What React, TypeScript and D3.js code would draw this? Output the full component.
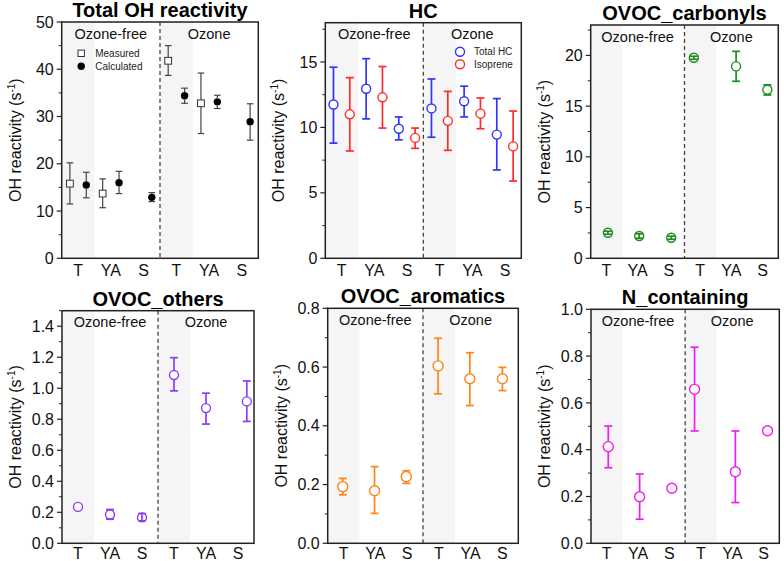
import React from "react";
import * as d3 from "d3";

const FONT = "'Liberation Sans', Arial, sans-serif";

// x axis: 12 slots, two per sample; labels sit between each pair
const sampleLabels = ["T", "YA", "S", "T", "YA", "S"];
const sampleLabelAt = [1.5, 3.5, 5.5, 7.5, 9.5, 11.5];
const conditionLabels = ["Ozone-free", "Ozone"];
const conditionLabelAt = [3.5, 9.5];

// Total OH reactivity
const measuredX = [1, 3, 7, 9];
const measuredY = [15.8, 13.7, 41.8, 32.8];
const measuredLo = [11.5, 10.7, 38.7, 26.4];
const measuredHi = [20.2, 16.8, 45.0, 39.2];
const calculatedX = [2, 4, 6, 8, 10, 12];
const calculatedY = [15.5, 16.0, 12.9, 34.4, 33.1, 28.9];
const calculatedLo = [12.8, 13.7, 12.0, 32.8, 31.7, 25.0];
const calculatedHi = [18.2, 18.4, 13.9, 36.0, 34.5, 32.7];

// HC
const totalHcX = [1, 3, 5, 7, 9, 11];
const totalHcY = [11.75, 12.95, 9.9, 11.45, 12.0, 9.45];
const totalHcLo = [8.8, 10.65, 9.05, 9.25, 10.8, 6.75];
const totalHcHi = [14.6, 15.25, 10.8, 13.7, 13.15, 12.2];
const isopreneX = [2, 4, 6, 8, 10, 12];
const isopreneY = [11.0, 12.3, 9.2, 10.5, 11.05, 8.55];
const isopreneLo = [8.2, 9.95, 8.4, 8.25, 9.9, 5.9];
const isopreneHi = [13.8, 14.65, 9.95, 12.75, 12.25, 11.25];

// OVOC_carbonyls
const carbonylX = [1.6, 3.6, 5.65, 7.1, 9.8, 11.8];
const carbonylY = [2.52, 2.2, 2.03, 19.77, 18.92, 16.62];
const carbonylLo = [2.37, 1.98, 1.88, 19.62, 17.45, 16.1];
const carbonylHi = [2.67, 2.42, 2.18, 19.92, 20.4, 17.1];

// OVOC_others
const othersX = [1.5, 3.5, 5.5, 7.5, 9.5, 12.05];
const othersY = [0.235, 0.186, 0.167, 1.085, 0.872, 0.915];
const othersLo = [0.235, 0.155, 0.145, 0.983, 0.769, 0.786];
const othersHi = [0.235, 0.218, 0.192, 1.197, 0.968, 1.047];

// OVOC_aromatics
const aromaticsX = [1.45, 3.45, 5.45, 7.45, 9.45, 11.5];
const aromaticsY = [0.193, 0.179, 0.227, 0.604, 0.56, 0.56];
const aromaticsLo = [0.165, 0.102, 0.204, 0.509, 0.469, 0.52];
const aromaticsHi = [0.221, 0.261, 0.247, 0.698, 0.649, 0.599];

// N_containing
const nitrogenX = [1.6, 3.6, 5.65, 7.1, 9.7, 11.75];
const nitrogenY = [0.413, 0.199, 0.235, 0.658, 0.306, 0.481];
const nitrogenLo = [0.323, 0.103, 0.235, 0.48, 0.174, 0.481];
const nitrogenHi = [0.501, 0.296, 0.235, 0.838, 0.48, 0.481];

type Series = {
  name?: string;
  x: number[];
  y: number[];
  lo: number[];
  hi: number[];
  color: string;
  barColor: string;
  marker: "square" | "dot" | "ring";
  r: number;
  barWidth: number;
  cap: number;
};

type PanelProps = {
  title: string;
  box: { l: number; r: number; t: number; b: number };
  yMax: number;
  major: number;
  minor: number;
  decimals: number;
  series: Series[];
  legend?: { dx: number; dy: number; gap: number };
  labelDrop?: number;
};

function Marker({ s, cx, cy }: { s: Series; cx: number; cy: number }) {
  if (s.marker === "square")
    return <rect x={cx - s.r} y={cy - s.r} width={s.r * 2} height={s.r * 2} fill="#fff" stroke="#333" strokeWidth={1} />;
  if (s.marker === "dot") return <circle cx={cx} cy={cy} r={s.r} fill="#000" />;
  return <circle cx={cx} cy={cy} r={s.r} fill="#fff" stroke={s.color} strokeWidth={1.4} />;
}

function Panel({ title, box, yMax, major, minor, decimals, series, legend, labelDrop = 17.5 }: PanelProps) {
  const x = d3.scaleLinear().domain([0.5, 12.5]).range([box.l, box.r]);
  const y = d3.scaleLinear().domain([0, yMax]).range([box.b, box.t]);
  const majors = d3.range(0, yMax + 1e-9, major);
  const minors = d3.range(0, yMax + 1e-9, minor).filter((v) => Math.abs(v / major - Math.round(v / major)) > 1e-6);
  const fmt = d3.format(`.${decimals}f`);
  const cy = (box.t + box.b) / 2;

  return (
    <g fontFamily={FONT}>
      {/* shaded T columns */}
      <rect x={x(0.5)} y={box.t} width={x(2.5) - x(0.5)} height={box.b - box.t} fill="#f5f5f5" />
      <rect x={x(6.5)} y={box.t} width={x(8.5) - x(6.5)} height={box.b - box.t} fill="#f5f5f5" />
      <line x1={x(6.5)} x2={x(6.5)} y1={box.t} y2={box.b} stroke="#444" strokeWidth={1.3} strokeDasharray="4,3" />

      {conditionLabels.map((c, i) => (
        <text key={c} x={x(conditionLabelAt[i])} y={box.t + 16.5} fontSize={14.5} textAnchor="middle" fill="#111">
          {c}
        </text>
      ))}

      {series.map((s, si) => (
        <g key={si}>
          {s.x.map((xv, i) => {
            const px = x(xv);
            const py = y(s.y[i]);
            const top = y(s.hi[i]);
            const bot = y(s.lo[i]);
            const up = py - top;
            const dn = bot - py;
            const hasErr = up > 0.5 || dn > 0.5;
            return (
              <g key={i}>
                <Marker s={s} cx={px} cy={py} />
                {hasErr && (
                  <g stroke={s.barColor} strokeWidth={s.barWidth} fill="none">
                    {up > s.r ? <line x1={px} x2={px} y1={top} y2={py - s.r} /> : null}
                    {dn > s.r ? <line x1={px} x2={px} y1={py + s.r} y2={bot} /> : null}
                    {up <= s.r && dn <= s.r ? <line x1={px} x2={px} y1={top} y2={bot} /> : null}
                    <line x1={px - s.cap} x2={px + s.cap} y1={top} y2={top} />
                    <line x1={px - s.cap} x2={px + s.cap} y1={bot} y2={bot} />
                  </g>
                )}
              </g>
            );
          })}
        </g>
      ))}

      {legend &&
        series.map((s, si) => (
          <g key={"lg" + si}>
            <Marker s={{ ...s, r: s.marker === "square" ? 3.2 : s.r }} cx={box.l + legend.dx} cy={box.t + legend.dy + si * legend.gap} />
            <text x={box.l + legend.dx + 14} y={box.t + legend.dy + si * legend.gap + 3.6} fontSize={10} fill="#222">
              {s.name}
            </text>
          </g>
        ))}

      {/* frame */}
      <rect x={box.l} y={box.t} width={box.r - box.l} height={box.b - box.t} fill="none" stroke="#222" strokeWidth={1.5} />

      {/* y axis ticks */}
      {majors.map((v) => (
        <g key={"M" + v}>
          <line x1={box.l - 5} x2={box.l} y1={y(v)} y2={y(v)} stroke="#222" strokeWidth={1.2} />
          <text x={box.l - 8} y={y(v) + 5.6} fontSize={16} textAnchor="end" fill="#111">
            {fmt(v)}
          </text>
        </g>
      ))}
      {minors.map((v) => (
        <line key={"m" + v} x1={box.l - 3} x2={box.l} y1={y(v)} y2={y(v)} stroke="#222" strokeWidth={1} />
      ))}

      {/* x labels */}
      {sampleLabels.map((lab, i) => (
        <text key={"x" + i} x={x(sampleLabelAt[i])} y={box.b + labelDrop} fontSize={16} textAnchor="middle" fill="#111">
          {lab}
        </text>
      ))}

      <text transform={`translate(${box.l - 41},${cy}) rotate(-90)`} fontSize={16} textAnchor="middle" fill="#111">
        OH reactivity (s<tspan dy={-6} fontSize={10}>-1</tspan>
        <tspan dy={6}>)</tspan>
      </text>

      <text x={(box.l + box.r) / 2} y={box.t - 5} fontSize={20} fontWeight="bold" textAnchor="middle" fill="#000">
        {title}
      </text>
    </g>
  );
}

function colored(name: string, x: number[], y: number[], lo: number[], hi: number[], color: string, r = 4.5): Series {
  return { name, x, y, lo, hi, color, barColor: color, marker: "ring", r, barWidth: 1.7, cap: 4 };
}

export default function App() {
  const panels: PanelProps[] = [
    {
      title: "Total OH reactivity",
      box: { l: 61.7, r: 258.3, t: 22, b: 258.3 },
      yMax: 50,
      major: 10,
      minor: 5,
      decimals: 0,
      legend: { dx: 19.5, dy: 31.3, gap: 13 },
      series: [
        { name: "Measured", x: measuredX, y: measuredY, lo: measuredLo, hi: measuredHi, color: "#333", barColor: "#444", marker: "square", r: 3.4, barWidth: 1.2, cap: 3.3 },
        { name: "Calculated", x: calculatedX, y: calculatedY, lo: calculatedLo, hi: calculatedHi, color: "#000", barColor: "#444", marker: "dot", r: 3.7, barWidth: 1.2, cap: 3.3 },
      ],
    },
    {
      title: "HC",
      box: { l: 325.3, r: 521.3, t: 22.7, b: 258.3 },
      yMax: 18,
      major: 5,
      minor: 2.5,
      decimals: 0,
      legend: { dx: 134.7, dy: 29, gap: 12.5 },
      series: [
        colored("Total HC", totalHcX, totalHcY, totalHcLo, totalHcHi, "#3333ff"),
        colored("Isoprene", isopreneX, isopreneY, isopreneLo, isopreneHi, "#ff2b2b"),
      ],
    },
    {
      title: "OVOC_carbonyls",
      box: { l: 590.7, r: 778.3, t: 25, b: 258.3 },
      yMax: 23,
      major: 5,
      minor: 2.5,
      decimals: 0,
      series: [colored("", carbonylX, carbonylY, carbonylLo, carbonylHi, "#1e8c1e")],
    },
    {
      title: "OVOC_others",
      box: { l: 62, r: 254, t: 310.7, b: 543.3 },
      yMax: 1.5,
      major: 0.2,
      minor: 0.1,
      decimals: 1,
      labelDrop: 16,
      series: [colored("", othersX, othersY, othersLo, othersHi, "#8b3cf5")],
    },
    {
      title: "OVOC_aromatics",
      box: { l: 327.7, r: 518.3, t: 308.3, b: 543.3 },
      yMax: 0.8,
      major: 0.2,
      minor: 0.1,
      decimals: 1,
      labelDrop: 16,
      series: [colored("", aromaticsX, aromaticsY, aromaticsLo, aromaticsHi, "#ff8519", 5)],
    },
    {
      title: "N_containing",
      box: { l: 591, r: 779.3, t: 309.3, b: 543.3 },
      yMax: 1.0,
      major: 0.2,
      minor: 0.1,
      decimals: 1,
      labelDrop: 16,
      series: [colored("", nitrogenX, nitrogenY, nitrogenLo, nitrogenHi, "#f01cf0", 5)],
    },
  ];

  return (
    <svg width={784} height={561} style={{ position: "absolute", left: 0, top: 0, background: "#fff" }}>
      <rect width={784} height={561} fill="#fff" />
      {panels.map((p) => (
        <Panel key={p.title} {...p} />
      ))}
    </svg>
  );
}
